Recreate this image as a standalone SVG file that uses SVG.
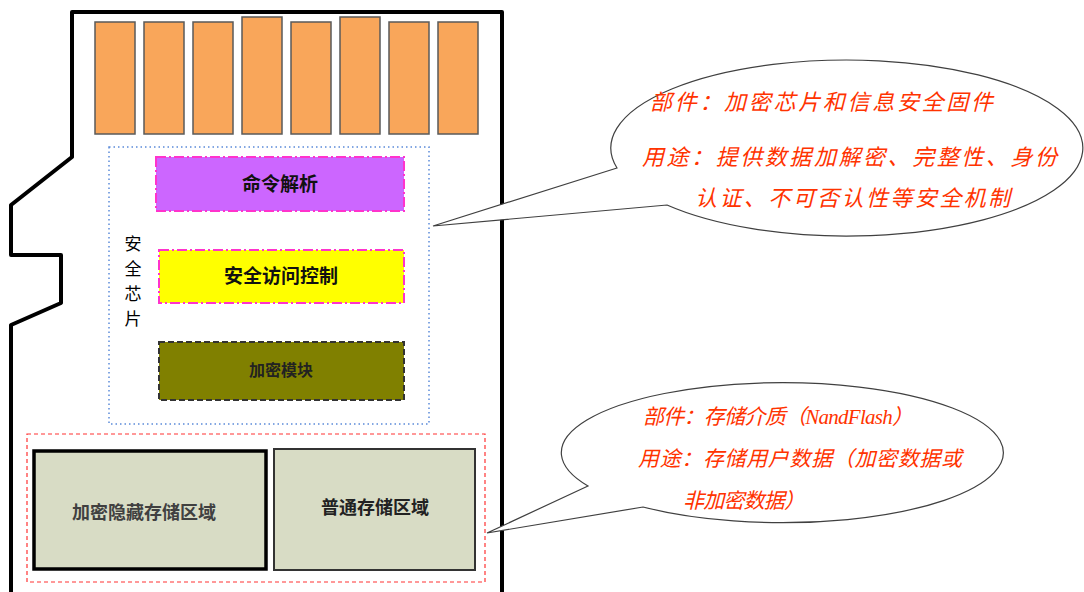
<svg xmlns="http://www.w3.org/2000/svg" width="1084" height="592" viewBox="0 0 1084 592">
<style>
.pad{fill:#F9A65A;stroke:#5a5a5a;stroke-width:1.5}
.cjk{font-family:"Noto Sans CJK SC","Noto Sans",sans-serif}
.lbl{font-family:"Noto Sans CJK SC","Noto Sans",sans-serif;font-weight:bold;text-anchor:middle}
.note{font-family:"Liberation Serif","Noto Sans CJK SC",serif;font-style:italic;fill:#FF3300}
.callout{fill:#fff;stroke:#404040;stroke-width:1.2}
</style>
<rect width="1084" height="592" fill="#fff"/>
<g id="card">
<path d="M502 600 L502 12 L72 12 L72 157 L11 205 L11 255 L61 255 L61 303 L11 325 L11 600" fill="none" stroke="#000" stroke-width="4" stroke-linejoin="round"/>
</g>
<g id="contacts">
<rect class="pad" x="95" y="22" width="40" height="112"/>
<rect class="pad" x="144" y="22" width="40" height="112"/>
<rect class="pad" x="193" y="22" width="40" height="112"/>
<rect class="pad" x="242" y="17" width="40" height="117"/>
<rect class="pad" x="291" y="22" width="40" height="112"/>
<rect class="pad" x="340" y="17" width="40" height="117"/>
<rect class="pad" x="389" y="22" width="40" height="112"/>
<rect class="pad" x="438" y="22" width="40" height="112"/>
</g>
<g id="security-chip">
<rect x="109" y="147" width="320" height="277" fill="none" stroke="#5B8BD9" stroke-width="1.5" stroke-dasharray="1.5,3"/>
<text class="cjk" font-size="17" text-anchor="middle" fill="#000" x="133" y="250">安</text>
<text class="cjk" font-size="17" text-anchor="middle" fill="#000" x="133" y="275">全</text>
<text class="cjk" font-size="17" text-anchor="middle" fill="#000" x="133" y="300">芯</text>
<text class="cjk" font-size="17" text-anchor="middle" fill="#000" x="133" y="325">片</text>
</g>
<g id="cmd-parse">
<rect x="156" y="157" width="248" height="54" fill="#CC66FF" stroke="#FF33CC" stroke-width="2" stroke-dasharray="10,3,2,3"/>
<text class="lbl" x="280" y="191" font-size="19" fill="#111">命令解析</text>
</g>
<g id="access-control">
<rect x="159" y="250" width="245" height="53" fill="#FFFF00" stroke="#FF33CC" stroke-width="2" stroke-dasharray="10,3,2,3"/>
<text class="lbl" x="281" y="283" font-size="19" fill="#111">安全访问控制</text>
</g>
<g id="crypto-module">
<rect x="159" y="342" width="245" height="58" fill="#808000" stroke="#333" stroke-width="2" stroke-dasharray="6,3"/>
<text class="lbl" x="281" y="376" font-size="16" fill="#222">加密模块</text>
</g>
<g id="storage">
<rect x="27" y="434" width="458" height="148" fill="none" stroke="#FF3333" stroke-width="1.2" stroke-dasharray="4,3"/>
</g>
<g id="hidden-area">
<rect x="34" y="451" width="232" height="118" fill="#D8DCC5" stroke="#000" stroke-width="3.5"/>
<text class="lbl" x="144" y="519" font-size="18" fill="#404040">加密隐藏存储区域</text>
</g>
<g id="normal-area">
<rect x="274" y="449" width="201" height="121" fill="#D8DCC5" stroke="#333" stroke-width="2"/>
<text class="lbl" x="375" y="514" font-size="18" fill="#222">普通存储区域</text>
</g>
<g id="connectors">
<path class="callout" d="M617 168 L433 226 L667 205 A236 88 0 1 0 617 168 Z"/>
<path class="callout" d="M588 486 L487 533 L643 507 A221 70 0 1 0 588 486 Z"/>
</g>
<g id="note-chip">
<text class="note" x="650" y="110" font-size="22" textLength="343">部件：加密芯片和信息安全固件</text>
<text class="note" x="642" y="165" font-size="22" textLength="415">用途：提供数据加解密、完整性、身份</text>
<text class="note" x="695" y="206" font-size="22" textLength="315">认证、不可否认性等安全机制</text>
</g>
<g id="note-storage">
<text class="note" x="643" y="424" font-size="21" textLength="270">部件：存储介质（NandFlash）</text>
<text class="note" x="638" y="466" font-size="21" textLength="324">用途：存储用户数据（加密数据或</text>
<text class="note" x="683" y="508" font-size="21" textLength="122">非加密数据）</text>
</g>
</svg>
